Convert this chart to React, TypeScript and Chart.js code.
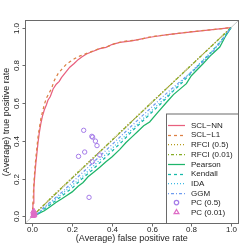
import { useEffect, useRef } from "react";
import { Chart, registerables } from "chart.js";

Chart.register(...registerables);

// ---------- data (false positive rate, true positive rate) ----------
const AXIS_TICKS = [0, 0.2, 0.4, 0.6, 0.8, 1.0];
const X_TITLE = "(Average) false positive rate";
const Y_TITLE = "(Average) true positive rate";
const SERIES_NAMES = [
  "SCL\u2212NN",
  "SCL\u2212L1",
  "RFCI (0.5)",
  "RFCI (0.01)",
  "Pearson",
  "Kendall",
  "IDA",
  "GGM",
  "PC (0.5)",
  "PC (0.01)",
];

const diagonal: [number, number][] = [[-0.04, -0.04], [1.04, 1.04]];

const sclNN: [number, number][] = [
  [0, 0], [0.003, 0.07], [0.007, 0.15], [0.012, 0.22], [0.017, 0.28], [0.022, 0.33],
  [0.028, 0.39], [0.034, 0.44], [0.042, 0.49], [0.05, 0.53], [0.06, 0.565], [0.07, 0.59],
  [0.078, 0.615], [0.09, 0.635], [0.104, 0.675], [0.12, 0.7], [0.135, 0.715], [0.146, 0.735],
  [0.165, 0.76], [0.188, 0.79], [0.21, 0.81], [0.23, 0.83], [0.25, 0.845], [0.272, 0.86],
  [0.3, 0.872], [0.339, 0.888], [0.37, 0.895], [0.4, 0.91], [0.44, 0.922], [0.5, 0.93],
  [0.55, 0.94], [0.6, 0.95], [0.68, 0.962], [0.78, 0.975], [0.86, 0.984], [0.93, 0.992], [1, 1],
];

const sclL1: [number, number][] = [
  [0, 0], [0.003, 0.08], [0.007, 0.17], [0.012, 0.25], [0.017, 0.31], [0.022, 0.36],
  [0.028, 0.42], [0.035, 0.47], [0.043, 0.52], [0.052, 0.56], [0.062, 0.6], [0.072, 0.63],
  [0.085, 0.655], [0.096, 0.677], [0.11, 0.72], [0.129, 0.756], [0.15, 0.782], [0.171, 0.806],
  [0.19, 0.82], [0.213, 0.836], [0.24, 0.85], [0.27, 0.862], [0.3, 0.874], [0.34, 0.89],
  [0.38, 0.9], [0.42, 0.918], [0.47, 0.928], [0.53, 0.935], [0.6, 0.952], [0.7, 0.965],
  [0.8, 0.978], [0.9, 0.988], [1, 1],
];

const rfci05: [number, number][] = [
  [0.01, 0.012], [0.1, 0.106], [0.2, 0.206], [0.3, 0.305], [0.4, 0.404], [0.5, 0.505],
  [0.6, 0.604], [0.7, 0.703], [0.8, 0.802], [0.9, 0.901], [1, 1],
];

const rfci001: [number, number][] = [
  [0.012, 0.014], [0.1, 0.104], [0.2, 0.204], [0.3, 0.304], [0.4, 0.403], [0.5, 0.503],
  [0.6, 0.603], [0.7, 0.702], [0.8, 0.801], [0.9, 0.9], [1, 1],
];

const pearson: [number, number][] = [
  [0.005, 0.003], [0.02, 0.008], [0.04, 0.02], [0.06, 0.03], [0.087, 0.05], [0.12, 0.075],
  [0.15, 0.095], [0.171, 0.11], [0.2, 0.13], [0.23, 0.16], [0.255, 0.18], [0.28, 0.21],
  [0.31, 0.235], [0.339, 0.26], [0.37, 0.29], [0.4, 0.315], [0.44, 0.355], [0.47, 0.39],
  [0.5, 0.42], [0.53, 0.45], [0.56, 0.48], [0.59, 0.5], [0.63, 0.55], [0.68, 0.61],
  [0.71, 0.645], [0.775, 0.703], [0.8, 0.745], [0.86, 0.81], [0.9, 0.855], [0.943, 0.897],
  [0.97, 0.95], [1, 1],
];

const kendall: [number, number][] = [
  [0.005, 0.003], [0.03, 0.015], [0.06, 0.04], [0.1, 0.07], [0.15, 0.11], [0.2, 0.15],
  [0.25, 0.2], [0.3, 0.245], [0.35, 0.295], [0.4, 0.345], [0.45, 0.395], [0.5, 0.45],
  [0.55, 0.5], [0.6, 0.55], [0.65, 0.6], [0.7, 0.655], [0.75, 0.705], [0.8, 0.76],
  [0.85, 0.815], [0.9, 0.87], [0.95, 0.93], [1, 1],
];

const ida: [number, number][] = [
  [0.005, 0.004], [0.03, 0.018], [0.06, 0.045], [0.1, 0.078], [0.15, 0.12], [0.2, 0.165],
  [0.25, 0.21], [0.3, 0.26], [0.35, 0.31], [0.4, 0.36], [0.45, 0.41], [0.5, 0.46],
  [0.55, 0.51], [0.6, 0.56], [0.65, 0.61], [0.7, 0.66], [0.75, 0.715], [0.8, 0.765],
  [0.85, 0.82], [0.9, 0.87], [0.95, 0.93], [1, 1],
];

const ggm: [number, number][] = [
  [0.005, 0.004], [0.03, 0.02], [0.06, 0.05], [0.1, 0.085], [0.15, 0.13], [0.2, 0.18],
  [0.25, 0.23], [0.3, 0.28], [0.35, 0.33], [0.4, 0.38], [0.45, 0.43], [0.5, 0.48],
  [0.55, 0.53], [0.6, 0.578], [0.65, 0.628], [0.7, 0.675], [0.75, 0.72], [0.8, 0.765],
  [0.85, 0.81], [0.9, 0.862], [0.95, 0.925], [1, 1],
];

const pc05: [number, number][] = [
  [0.258, 0.456], [0.299, 0.424], [0.303, 0.42], [0.317, 0.399], [0.325, 0.375],
  [0.232, 0.318], [0.263, 0.341], [0.339, 0.325], [0.302, 0.29], [0.285, 0.101],
];

const pc001: [number, number][] = [
  [0.002, 0.002], [0.004, 0.006], [0.006, 0.012], [0.008, 0.004], [0.005, 0.018],
  [0.01, 0.008], [0.003, 0.025], [0.007, 0.03], [0.012, 0.015], [0.009, 0.022],
];

// ---------- styles ----------
const COLORS = [
  "#E8607E", "#DC8045", "#B49A1A", "#86AD25", "#1FB56A",
  "#17B9A9", "#3CB8E3", "#6E9CF0", "#A57CE8", "#DE6CC6",
];
const DASHES: number[][] = [[], [3, 3], [1, 2], [1, 2, 3, 2], [], [3, 3], [1, 2], [1, 2, 3, 2], [], []];
const FONT = "'Liberation Sans', Arial, sans-serif";
const LINE_W = 1.25;

const toPts = (arr: [number, number][]) => arr.map(([x, y]) => ({ x, y }));

const framePlugin = {
  id: "rframe",
  afterDraw(chart: any) {
    const { ctx, chartArea, scales } = chart;
    const { left, right, top, bottom } = chartArea;
    const xs = scales.x;
    const ys = scales.y;
    ctx.save();
    ctx.strokeStyle = "#6a6a6a";
    ctx.lineWidth = 1;
    ctx.setLineDash([]);
    const L = Math.round(left) + 0.5;
    const T = Math.round(top) + 0.5;
    const R = Math.round(right) - 0.5;
    const B = Math.round(bottom) - 0.5;
    ctx.strokeRect(L, T, R - L, B - T);

    ctx.fillStyle = "#222";
    ctx.font = `8px ${FONT}`;
    ctx.textAlign = "center";
    ctx.textBaseline = "middle";
    AXIS_TICKS.forEach((t) => {
      const px = Math.round(xs.getPixelForValue(t)) + 0.5;
      ctx.beginPath();
      ctx.moveTo(px, B);
      ctx.lineTo(px, B + 3);
      ctx.stroke();
      ctx.fillText(t.toFixed(1), px, B + 6);
      const py = Math.round(ys.getPixelForValue(t)) + 0.5;
      ctx.beginPath();
      ctx.moveTo(L, py);
      ctx.lineTo(L - 3, py);
      ctx.stroke();
      ctx.save();
      ctx.translate(L - 9, py);
      ctx.rotate(-Math.PI / 2);
      ctx.fillText(t.toFixed(1), 0, 0);
      ctx.restore();
    });

    ctx.font = `9px ${FONT}`;
    ctx.fillText(X_TITLE, (left + right) / 2, B + 15.5);
    ctx.save();
    ctx.translate(6.5, (top + bottom) / 2);
    ctx.rotate(-Math.PI / 2);
    ctx.fillText(Y_TITLE, 0, 0);
    ctx.restore();

    const lw = 72;
    const lh = 109.5;
    const lx = R - lw;
    const ly = B - lh;
    ctx.fillStyle = "#fff";
    ctx.fillRect(lx, ly, lw, lh);
    ctx.strokeStyle = "#6a6a6a";
    ctx.strokeRect(lx, ly, lw, lh);
    ctx.font = `8px ${FONT}`;
    ctx.textAlign = "left";
    const rowStep = 9.7;
    SERIES_NAMES.forEach((name, i) => {
      const cy = ly + 11 + i * rowStep;
      ctx.strokeStyle = COLORS[i];
      ctx.lineWidth = LINE_W;
      if (i < 8) {
        ctx.setLineDash(DASHES[i]);
        ctx.beginPath();
        ctx.moveTo(lx + 1.5, Math.round(cy) + 0.5);
        ctx.lineTo(lx + 18.5, Math.round(cy) + 0.5);
        ctx.stroke();
        ctx.setLineDash([]);
      } else if (i === 8) {
        ctx.beginPath();
        ctx.arc(lx + 10, cy, 2.2, 0, Math.PI * 2);
        ctx.stroke();
      } else {
        const r = 2.8;
        ctx.beginPath();
        ctx.moveTo(lx + 10, cy - r);
        ctx.lineTo(lx + 10 + r * 0.87, cy + r * 0.5);
        ctx.lineTo(lx + 10 - r * 0.87, cy + r * 0.5);
        ctx.closePath();
        ctx.stroke();
      }
      ctx.fillStyle = "#222";
      ctx.fillText(name, lx + 24.5, cy + 0.5);
    });
    ctx.restore();
  },
};

export default function App() {
  const ref = useRef<HTMLCanvasElement | null>(null);

  useEffect(() => {
    document.body.style.margin = "0";
    const canvas = ref.current;
    if (!canvas) return;
    const lineSeries = [sclNN, sclL1, rfci05, rfci001, pearson, kendall, ida, ggm];
    const datasets: any[] = [];
    lineSeries.forEach((s, i) => {
      datasets.push({
        label: SERIES_NAMES[i],
        data: toPts(s),
        showLine: true,
        borderColor: COLORS[i],
        backgroundColor: COLORS[i],
        borderWidth: LINE_W,
        borderDash: DASHES[i],
        pointRadius: 0,
        fill: false,
        tension: 0,
        order: 10 - i,
      });
    });
    datasets.push({
      label: SERIES_NAMES[8],
      data: toPts(pc05),
      showLine: false,
      pointStyle: "circle",
      pointRadius: 2.2,
      borderWidth: 1,
      borderColor: COLORS[8],
      backgroundColor: "rgba(0,0,0,0)",
      order: 1,
    });
    datasets.push({
      label: SERIES_NAMES[9],
      data: toPts(pc001),
      showLine: false,
      pointStyle: "triangle",
      pointRadius: 2.8,
      borderWidth: 1,
      borderColor: COLORS[9],
      backgroundColor: "rgba(0,0,0,0)",
      order: 0,
    });
    datasets.push({
      label: "diagonal",
      data: toPts(diagonal),
      showLine: true,
      borderColor: "#C8C8C8",
      borderWidth: 1,
      pointRadius: 0,
      order: 20,
    });

    const chart = new Chart(canvas, {
      type: "scatter",
      data: { datasets },
      options: {
        animation: false,
        responsive: false,
        maintainAspectRatio: false,
        layout: { padding: { left: 24.5, right: 10, top: 20, bottom: 25 } },
        plugins: { legend: { display: false }, tooltip: { enabled: false } },
        scales: {
          x: { type: "linear", min: -0.04, max: 1.04, display: false },
          y: { type: "linear", min: -0.04, max: 1.04, display: false },
        },
      },
      plugins: [framePlugin],
    });
    return () => chart.destroy();
  }, []);

  return <canvas ref={ref} width={249} height={249} style={{ display: "block" }} />;
}
